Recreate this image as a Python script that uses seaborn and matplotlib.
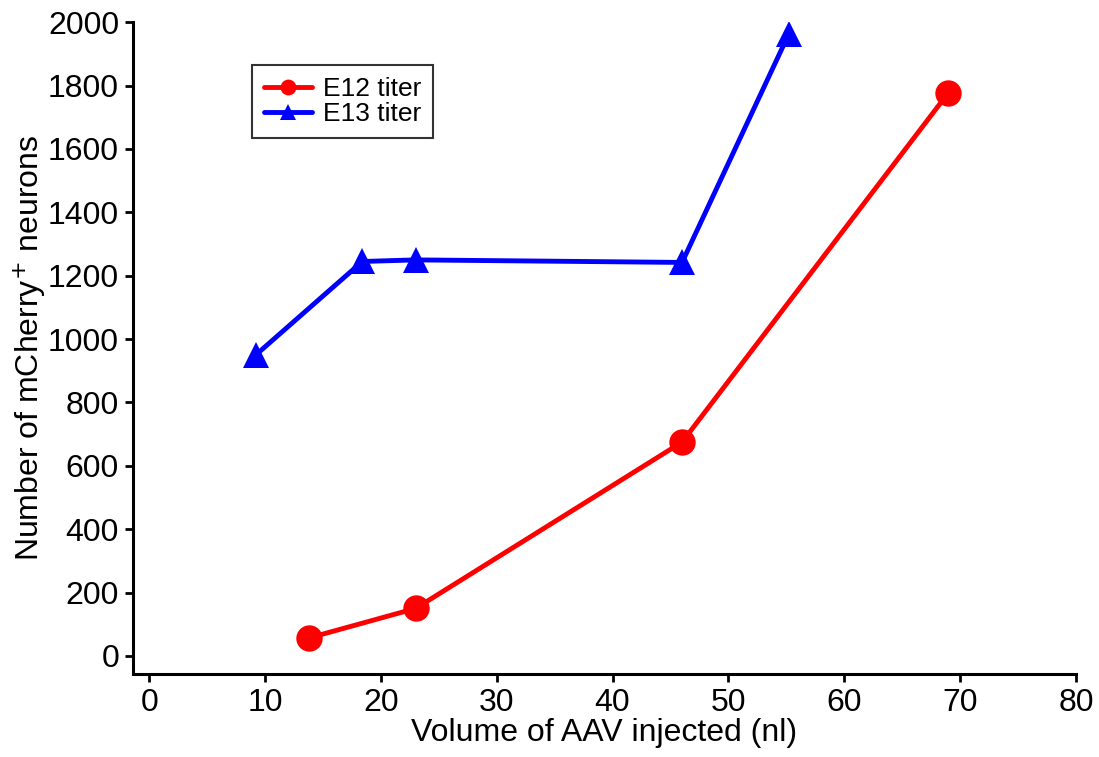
import matplotlib
matplotlib.use("Agg")
import matplotlib.pyplot as plt
import seaborn as sns
import pandas as pd

# datos
e12_vol = [13.8, 23, 46, 69]
e12_n = [57, 150, 675, 1778]
e13_vol = [9.2, 18.4, 23, 46, 55.2]
e13_n = [950, 1245, 1250, 1242, 1962]

df = pd.concat([
    pd.DataFrame({"vol": e12_vol, "n": e12_n, "titer": "E12 titer"}),
    pd.DataFrame({"vol": e13_vol, "n": e13_n, "titer": "E13 titer"}),
])

sns.set_style("ticks")
plt.rcParams["font.family"] = ["Liberation Sans", "DejaVu Sans"]
plt.rcParams["text.color"] = "black"
plt.rcParams["axes.labelcolor"] = "black"

fig = plt.figure(figsize=(10.99, 7.57), dpi=100)
ax = fig.add_axes([0.121, 0.1096, 0.858, 0.861])

sns.lineplot(data=df, x="vol", y="n", hue="titer", style="titer",
             palette={"E12 titer": "#ff0000", "E13 titer": "#0000ff"},
             markers={"E12 titer": "o", "E13 titer": "^"}, dashes=False,
             markersize=19, linewidth=3.5, markeredgewidth=0, ax=ax)

ax.set_xlim(-1.4, 80)
ax.set_ylim(-57, 2000)
ax.set_xticks(range(0, 81, 10))
ax.set_yticks(range(0, 2001, 200))
ax.tick_params(labelsize=23, length=6, width=2, colors="black", pad=4)
for s in ["left", "bottom"]:
    ax.spines[s].set_linewidth(2.2)
    ax.spines[s].set_color("black")
for s in ["top", "right"]:
    ax.spines[s].set_visible(False)

ax.set_xlabel("Volume of AAV injected (nl)", fontsize=23, labelpad=0)
ax.set_ylabel("Number of mCherry$^{+}$ neurons", fontsize=23, labelpad=0)

leg = ax.legend(loc="upper left", bbox_to_anchor=(0.126, 0.934), fontsize=19,
                frameon=True, fancybox=False, edgecolor="black",
                borderaxespad=0, handlelength=1.85, handletextpad=0.38,
                borderpad=0.45, labelspacing=0.05, markerscale=0.6)
leg.get_frame().set_linewidth(1.5)

plt.savefig("out.png", dpi=100)
